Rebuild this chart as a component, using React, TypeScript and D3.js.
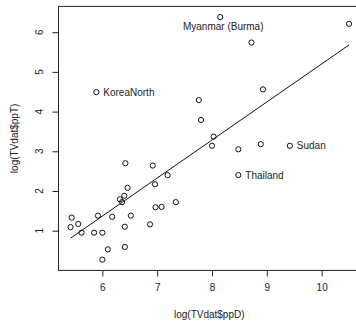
import React, { useEffect, useRef } from 'react';
import * as d3 from 'd3';

// log(TVdat$ppD) and log(TVdat$ppT), unlabelled countries
const ppD = [
  5.42, 5.44, 5.56, 5.62, 5.85, 5.92, 6.0, 6.0, 6.1, 6.18, 6.32, 6.36, 6.4,
  6.41, 6.41, 6.42, 6.46, 6.52, 6.87, 6.92, 6.96, 6.97, 7.08, 7.19, 7.34,
  8.72, 10.5, 8.93, 7.76, 7.8, 8.03, 8.0, 8.48, 8.89,
];
const ppT = [
  1.09, 1.33, 1.17, 0.95, 0.95, 1.38, 0.95, 0.27, 0.53, 1.35, 1.79, 1.72, 1.88,
  1.1, 0.59, 2.7, 2.08, 1.38, 1.16, 2.64, 2.17, 1.59, 1.6, 2.4, 1.72,
  5.74, 6.21, 4.56, 4.29, 3.79, 3.37, 3.14, 3.05, 3.18,
];

// labelled countries
const labelNames = ['Myanmar (Burma)', 'KoreaNorth', 'Sudan', 'Thailand'];
const labelD = [8.15, 5.89, 9.42, 8.48];
const labelT = [6.38, 4.49, 3.14, 2.4];

// fitted line lm(log(ppT) ~ log(ppD))
const fitIntercept = -4.38;
const fitSlope = 0.958;

const xTicks = [6, 7, 8, 9, 10];
const yTicks = [1, 2, 3, 4, 5, 6];

const width = 356;
const height = 324;

const App = () => {
  const svgRef = useRef<SVGSVGElement>(null);

  useEffect(() => {
    const svg = d3.select(svgRef.current);
    svg.selectAll('*').remove();

    const x = d3.scaleLinear().domain([5.2, 10.7]).range([58.5, 360]);
    const y = d3.scaleLinear().domain([0, 6.65]).range([270.4, 6.4]);
    const font = 'Liberation Sans, Arial, Helvetica, sans-serif';

    // box
    svg.append('rect')
      .attr('x', x(5.2)).attr('y', y(6.65))
      .attr('width', x(10.7) - x(5.2)).attr('height', y(0) - y(6.65))
      .attr('fill', 'none').attr('stroke', '#222').attr('stroke-width', 1);

    // x axis
    const xAxis = svg.append('g')
      .attr('transform', `translate(0, ${y(0)})`)
      .call(d3.axisBottom(x).tickValues(xTicks).tickSize(6).tickPadding(8).tickFormat(d3.format('d')));
    xAxis.select('.domain').remove();
    xAxis.selectAll('line').attr('stroke', '#222');
    xAxis.selectAll('text').attr('font-family', font).attr('font-size', 10).attr('fill', '#222');

    // y axis (rotated labels like R)
    const yAxis = svg.append('g')
      .attr('transform', `translate(${x(5.2)}, 0)`)
      .call(d3.axisLeft(y).tickValues(yTicks).tickSize(6).tickFormat(d3.format('d')));
    yAxis.select('.domain').remove();
    yAxis.selectAll('line').attr('stroke', '#222');
    yAxis.selectAll('text').remove();
    svg.append('g')
      .selectAll('text')
      .data(yTicks)
      .enter()
      .append('text')
      .attr('transform', d => `translate(43, ${y(d)}) rotate(-90)`)
      .attr('text-anchor', 'middle')
      .attr('font-family', font).attr('font-size', 10).attr('fill', '#222')
      .text(d => d);

    // axis titles
    svg.append('text')
      .attr('x', (x(5.2) + x(10.7)) / 2).attr('y', 318)
      .attr('text-anchor', 'middle')
      .attr('font-family', font).attr('font-size', 10).attr('fill', '#222')
      .text('log(TVdat$ppD)');
    svg.append('text')
      .attr('transform', `translate(18, ${(y(0) + y(6.65)) / 2}) rotate(-90)`)
      .attr('text-anchor', 'middle')
      .attr('font-family', font).attr('font-size', 10).attr('fill', '#222')
      .text('log(TVdat$ppT)');

    // points
    const allD = ppD.concat(labelD);
    const allT = ppT.concat(labelT);
    svg.append('g')
      .selectAll('circle')
      .data(allD)
      .enter()
      .append('circle')
      .attr('cx', d => x(d))
      .attr('cy', (d, i) => y(allT[i]))
      .attr('r', 2.6)
      .attr('fill', 'none')
      .attr('stroke', '#111')
      .attr('stroke-width', 1);

    // fitted line
    const [minD, maxD] = d3.extent(allD) as [number, number];
    const line = d3.line<number>().x(d => x(d)).y(d => y(fitIntercept + fitSlope * d));
    svg.append('path')
      .attr('d', line([minD, maxD]))
      .attr('fill', 'none')
      .attr('stroke', '#111')
      .attr('stroke-width', 1);

    // labels: first one below, others to the right
    svg.append('g')
      .selectAll('text')
      .data(labelNames)
      .enter()
      .append('text')
      .attr('x', (d, i) => (i === 0 ? x(labelD[i]) + 3 : x(labelD[i]) + 7))
      .attr('y', (d, i) => (i === 0 ? y(labelT[i]) + 13 : y(labelT[i]) + 3.5))
      .attr('text-anchor', (d, i) => (i === 0 ? 'middle' : 'start'))
      .attr('font-family', font).attr('font-size', 10).attr('fill', '#222')
      .text(d => d);
  }, []);

  return (
    <svg
      ref={svgRef}
      width={width}
      height={height}
      style={{ position: 'absolute', left: 0, top: 0, background: '#fff' }}
    />
  );
};

export default App;
